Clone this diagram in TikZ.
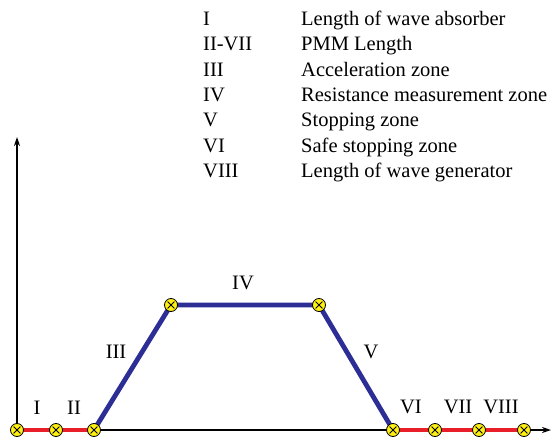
\documentclass[tikz,border=0pt]{standalone}
\usepackage{fontspec}
\setmainfont{Liberation Serif}
\usetikzlibrary{arrows.meta}
\definecolor{myred}{RGB}{232,30,40}
\definecolor{myblue}{RGB}{45,45,150}
\definecolor{myyellow}{RGB}{255,240,20}
\tikzset{
  axis/.style={line width=1.3pt, -{Stealth[length=9pt,width=6pt]}},
  redseg/.style={myred, line width=4pt},
  blueseg/.style={myblue, line width=4.8pt},
  mk/.style={circle, draw=black, line width=0.8pt, fill=myyellow, minimum size=13pt, inner sep=0pt,
    path picture={\draw[line width=0.8pt] ([shift={(3.1pt,-3.1pt)}]path picture bounding box.north west) -- ([shift={(-3.1pt,3.1pt)}]path picture bounding box.south east);
                  \draw[line width=0.8pt] ([shift={(3.1pt,3.1pt)}]path picture bounding box.south west) -- ([shift={(-3.1pt,-3.1pt)}]path picture bounding box.north east);}},
  lab/.style={font=\fontsize{20.5}{20.5}\selectfont, inner sep=0pt},
  leg/.style={font=\fontsize{20.5}{20.5}\selectfont, inner sep=0pt, anchor=base west}
}
\begin{document}
\begin{tikzpicture}[x=1pt,y=-1pt]
\useasboundingbox (0,0) rectangle (552,439);
% coordinates
\coordinate (o) at (17,430);
\coordinate (ytop) at (17,137);
\coordinate (xend) at (551,430);
% axes
\draw[axis] (o) -- (ytop);
\draw[axis] (o) -- (xend);
% marker positions
\foreach \n/\x/\y in {p1/17/430,p2/56/430,p3/94/430,p4/171/305,p5/319/305,p6/393/430,p7/435/430,p8/479/430,p9/524/430}
  \coordinate (\n) at (\x,\y);
% segments
\draw[redseg] (p1) -- (p3);
\draw[redseg] (p6) -- (p9);
\draw[blueseg] (p3) -- (p4) -- (p5) -- (p6);
% markers on top
\foreach \n in {p1,p2,p3,p4,p5,p6,p7,p8,p9}
  \node[mk] (m\n) at (\n) {};
% labels
\node[lab] (lI) at (37,408) {I};
\node[lab] (lII) at (74,408) {II};
\node[lab] (lIII) at (116,352) {III};
\node[lab] (lIV) at (243,283) {IV};
\node[lab] (lV) at (371,352) {V};
\node[lab] (lVI) at (411,407) {VI};
\node[lab] (lVII) at (458,407) {VII};
\node[lab] (lVIII) at (501,407) {VIII};
% legend
\foreach \a/\b [count=\i] in {I/Length of wave absorber, II-VII/PMM Length, III/Acceleration zone, IV/Resistance measurement zone, V/Stopping zone, VI/Safe stopping zone, VIII/Length of wave generator}{
  \node[leg] (ka\i) at (203,{25.5+25.3*(\i-1)}) {\a};
  \node[leg] (kb\i) at (301,{25.5+25.3*(\i-1)}) {\b};
}
\end{tikzpicture}
\end{document}
